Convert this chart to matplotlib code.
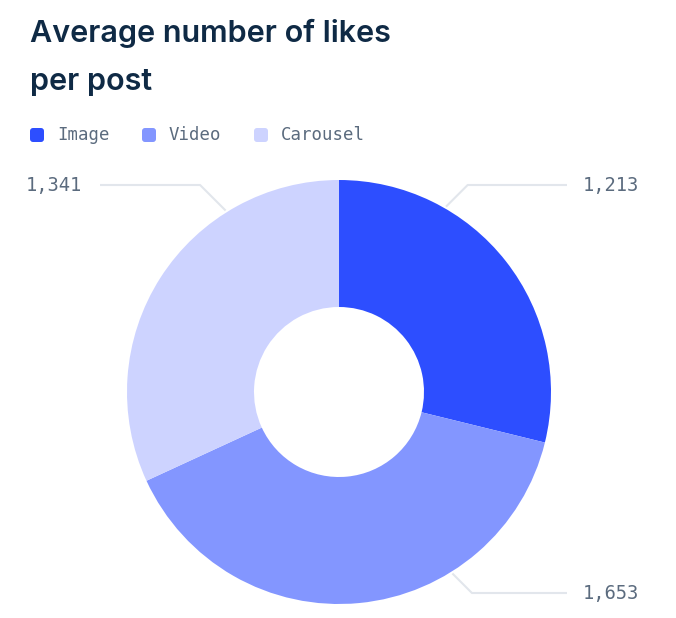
import numpy as np
import matplotlib
matplotlib.use("Agg")
from matplotlib import pyplot as plt
from matplotlib.patches import FancyBboxPatch

# data
categories = ["Image", "Video", "Carousel"]
likes = [1213, 1653, 1341]
colors = ["#2D4EFF", "#8396FF", "#CDD3FF"]

title_color = "#0F2A45"
text_color = "#5B6B7E"
line_color = "#E2E6EC"

W, H = 676, 618
fig = plt.figure(figsize=(W / 100, H / 100), dpi=100)
ax = fig.add_axes([0, 0, 1, 1])

# donut, coordinates in pixels (y measured from the bottom)
cx, cy, r = 339, H - 392, 212
wedges, _ = ax.pie(likes, colors=colors, startangle=90, counterclock=False,
                   radius=r, center=(cx, cy),
                   wedgeprops=dict(width=r - 85, linewidth=0))
ax.set_xlim(0, W)
ax.set_ylim(0, H)
ax.set_aspect("equal")
ax.axis("off")

# leader lines + value labels
# (angle on the rim where line meets the ring, label y in px, side)
label_pos = {"Image": (60, 185, "right"), "Video": (-58, 593, "right"),
             "Carousel": (122, 185, "left")}
for cat, val in zip(categories, likes):
    ang, ly, side = label_pos[cat]
    a = np.deg2rad(ang)
    x0, y0 = cx + (r + 2) * np.cos(a), cy + (r + 2) * np.sin(a)
    ly = H - ly
    dy = ly - y0
    if side == "right":
        x1 = x0 + abs(dy)
        ax.plot([x0, x1, 567], [y0, ly, ly], color=line_color, lw=1.5,
                zorder=0, solid_capstyle="butt")
        ax.text(583, ly, f"{val:,}", ha="left", va="center",
                fontsize=13.5, family="DejaVu Sans Mono", color=text_color)
    else:
        x1 = x0 - abs(dy)
        ax.plot([x0, x1, 100], [y0, ly, ly], color=line_color, lw=1.5,
                zorder=0, solid_capstyle="butt")
        ax.text(82, ly, f"{val:,}", ha="right", va="center",
                fontsize=13.5, family="DejaVu Sans Mono", color=text_color)

# title
fig.text(30 / W, 1 - 42 / H, "Average number of likes", fontsize=22,
         family="Inter", weight="semibold", color=title_color, va="baseline")
fig.text(30 / W, 1 - 90 / H, "per post", fontsize=22,
         family="Inter", weight="semibold", color=title_color, va="baseline")

# legend
leg_x = [30, 142, 254]
for x, cat, c in zip(leg_x, categories, colors):
    ax.add_patch(FancyBboxPatch((x + 2, H - 142 + 2), 10, 10,
                                boxstyle="round,pad=2,rounding_size=3",
                                fc=c, ec="none"))
    ax.text(x + 27, H - 135, cat, ha="left", va="center", fontsize=12.5,
            family="DejaVu Sans Mono", color=text_color)

fig.savefig("out.png", dpi=100, facecolor="white")
